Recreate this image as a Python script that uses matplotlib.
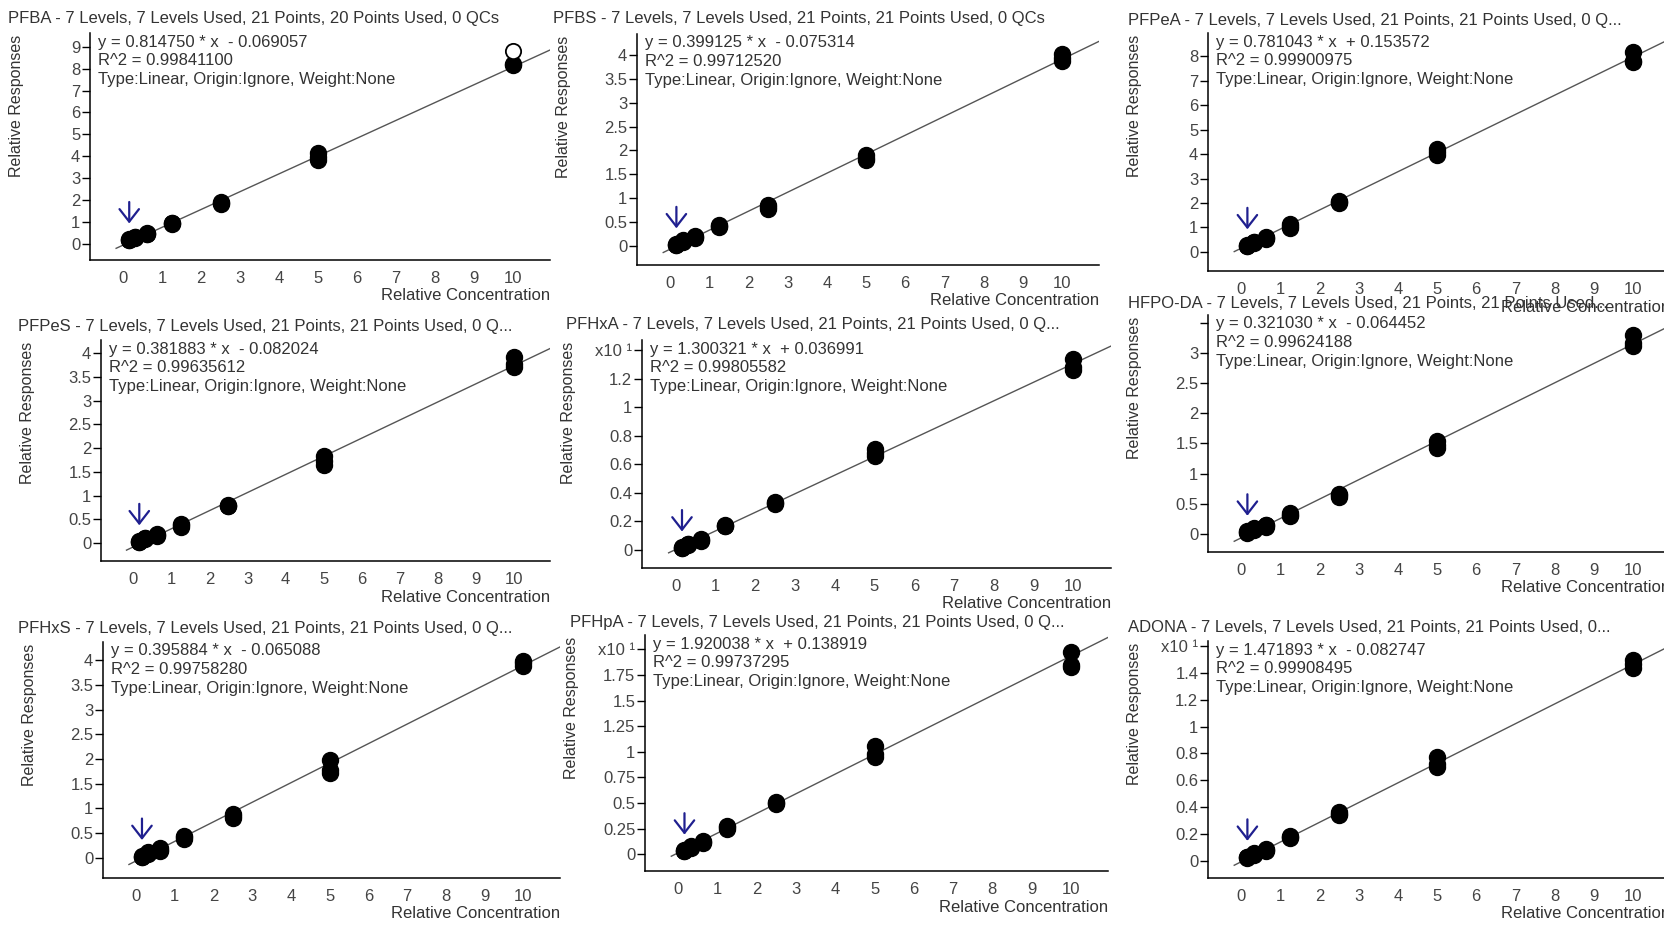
import numpy as np
import matplotlib
matplotlib.use('Agg')
import matplotlib.pyplot as plt
import matplotlib.transforms as mtransforms

plt.rcParams['font.family'] = ['Liberation Sans', 'DejaVu Sans']

# calibration levels (relative concentration), 3 replicates each
levels = [0.15625, 0.3125, 0.625, 1.25, 2.5, 5, 10]

compounds = ['PFBA', 'PFBS', 'PFPeA', 'PFPeS', 'PFHxA', 'HFPO-DA', 'PFHxS', 'PFHpA', 'ADONA']
titles = [
    'PFBA - 7 Levels, 7 Levels Used, 21 Points, 20 Points Used, 0 QCs',
    'PFBS - 7 Levels, 7 Levels Used, 21 Points, 21 Points Used, 0 QCs',
    'PFPeA - 7 Levels, 7 Levels Used, 21 Points, 21 Points Used, 0 Q...',
    'PFPeS - 7 Levels, 7 Levels Used, 21 Points, 21 Points Used, 0 Q...',
    'PFHxA - 7 Levels, 7 Levels Used, 21 Points, 21 Points Used, 0 Q...',
    'HFPO-DA - 7 Levels, 7 Levels Used, 21 Points, 21 Points Used...',
    'PFHxS - 7 Levels, 7 Levels Used, 21 Points, 21 Points Used, 0 Q...',
    'PFHpA - 7 Levels, 7 Levels Used, 21 Points, 21 Points Used, 0 Q...',
    'ADONA - 7 Levels, 7 Levels Used, 21 Points, 21 Points Used, 0...',
]
slopes = [0.814750, 0.399125, 0.781043, 0.381883, 1.300321, 0.321030, 0.395884, 1.920038, 1.471893]
intercepts = [-0.069057, -0.075314, 0.153572, -0.082024, 0.036991, -0.064452, -0.065088, 0.138919, -0.082747]
r_squared = ['0.99841100', '0.99712520', '0.99900975', '0.99635612', '0.99805582',
             '0.99624188', '0.99758280', '0.99737295', '0.99908495']
# displayed response multiplier (x10^1 on some axes)
multiplier = [1, 1, 1, 1, 10, 1, 1, 10, 10]

# relative responses per level (3 replicates)
pfba = [[0.15, 0.18, 0.20], [0.24, 0.28, 0.32], [0.42, 0.45, 0.48], [0.90, 0.93, 0.95],
        [1.82, 1.86, 1.92], [3.82, 3.95, 4.12], [8.15, 8.22, np.nan]]
pfba_excluded = [10, 8.82]
pfbs = [[0.01, 0.02, 0.03], [0.08, 0.10, 0.11], [0.15, 0.17, 0.19], [0.40, 0.42, 0.43],
        [0.76, 0.80, 0.86], [1.80, 1.85, 1.90], [3.88, 3.95, 4.02]]
pfpea = [[0.23, 0.26, 0.28], [0.36, 0.40, 0.42], [0.52, 0.56, 0.60], [0.98, 1.06, 1.14],
         [2.02, 2.05, 2.08], [3.98, 4.10, 4.22], [7.78, 7.82, 8.16]]
pfpes = [[0.02, 0.03, 0.04], [0.08, 0.10, 0.11], [0.14, 0.17, 0.19], [0.34, 0.37, 0.39],
         [0.77, 0.79, 0.81], [1.64, 1.72, 1.84], [3.72, 3.78, 3.92]]
pfhxa = [[0.14, 0.17, 0.19], [0.35, 0.40, 0.42], [0.65, 0.70, 0.75], [1.65, 1.70, 1.75],
         [3.25, 3.30, 3.36], [6.60, 6.80, 7.10], [12.6, 12.8, 13.4]]
hfpoda = [[0.02, 0.03, 0.04], [0.06, 0.08, 0.09], [0.12, 0.14, 0.15], [0.29, 0.32, 0.35],
          [0.62, 0.64, 0.66], [1.43, 1.48, 1.54], [3.12, 3.16, 3.30]]
pfhxs = [[0.01, 0.02, 0.04], [0.08, 0.10, 0.12], [0.13, 0.16, 0.19], [0.38, 0.42, 0.45],
         [0.80, 0.84, 0.88], [1.72, 1.78, 1.98], [3.88, 3.94, 3.99]]
pfhpa = [[0.28, 0.33, 0.36], [0.60, 0.70, 0.75], [1.05, 1.15, 1.25], [2.50, 2.60, 2.70],
         [4.90, 5.00, 5.10], [9.50, 9.80, 10.6], [18.3, 18.5, 19.7]]
adona = [[0.20, 0.25, 0.30], [0.45, 0.50, 0.55], [0.75, 0.82, 0.88], [1.70, 1.78, 1.85],
         [3.40, 3.50, 3.60], [7.00, 7.20, 7.70], [14.4, 14.7, 15.0]]
responses = [pfba, pfbs, pfpea, pfpes, pfhxa, hfpoda, pfhxs, pfhpa, adona]

# y ticks as shown on each axis (in displayed units)
yticks = [
    [0, 1, 2, 3, 4, 5, 6, 7, 8, 9],
    [0, 0.5, 1, 1.5, 2, 2.5, 3, 3.5, 4],
    [0, 1, 2, 3, 4, 5, 6, 7, 8],
    [0, 0.5, 1, 1.5, 2, 2.5, 3, 3.5, 4],
    [0, 0.2, 0.4, 0.6, 0.8, 1, 1.2, 1.4],
    [0, 0.5, 1, 1.5, 2, 2.5, 3, 3.5],
    [0, 0.5, 1, 1.5, 2, 2.5, 3, 3.5, 4],
    [0, 0.25, 0.5, 0.75, 1, 1.25, 1.5, 1.75, 2],
    [0, 0.2, 0.4, 0.6, 0.8, 1, 1.2, 1.4, 1.6],
]
xticks = [0, 1, 2, 3, 4, 5, 6, 7, 8, 9, 10]

# ---- layout (pixels of the 1665x932 picture) ----
W, H = 1665, 932
# axes box: left, top, right, bottom
boxes = [
    (90, 33, 550, 260), (637, 34, 1099, 265), (1208, 33, 1670, 271),
    (101, 340, 550, 561), (642, 340, 1111, 568), (1208, 315, 1670, 552),
    (103, 642, 560, 878), (645, 635, 1108, 871), (1208, 641, 1670, 878),
]
ylims = [(-0.75, 9.63), (-0.41, 4.45), (-0.78, 8.95),
         (-0.38, 4.28), (-0.126, 1.47), (-0.30, 3.63),
         (-0.41, 4.37), (-0.165, 2.14), (-0.13, 1.64)]
title_pos = [(8, 18), (553, 18), (1128, 20), (18, 327), (566, 325), (1128, 304),
             (18, 629), (570, 622), (1128, 628)]
xlim = (-0.85, 10.95)

txt = '#333333'
navy = '#1f1f8f'

fig = plt.figure(figsize=(W / 100, H / 100), dpi=100)


def fpos(x, y):
    return x / W, 1 - y / H


for i in range(9):
    l, t, r, b = boxes[i]
    ax = fig.add_axes([l / W, 1 - b / H, (r - l) / W, (b - t) / H])
    ax.set_xlim(xlim)
    ax.set_ylim(ylims[i])
    ax.patch.set_alpha(0)
    for s in ('top', 'right'):
        ax.spines[s].set_visible(False)
    for s in ('left', 'bottom'):
        ax.spines[s].set_linewidth(1.1)
        ax.spines[s].set_color('black')

    m = multiplier[i]
    ax.set_xticks(xticks)
    ax.set_xticklabels([str(v) for v in xticks])
    ax.set_yticks(yticks[i])
    labels = ['%g' % v for v in yticks[i]]
    if m == 10:
        labels[-1] = 'x10 \u00b9'
    if compounds[i] == 'HFPO-DA':
        labels[-1] = ''
    ax.set_yticklabels(labels)
    ax.tick_params(axis='y', length=5.5, width=1.0, pad=1.5, labelsize=12, labelcolor='#444444')
    ax.tick_params(axis='x', length=0, pad=8, labelsize=12, labelcolor='#444444')

    # regression line
    xs = np.array([-0.18, 11.5])
    ax.plot(xs, (slopes[i] * xs + intercepts[i]) / m, color='#555555', lw=1.0, zorder=2)

    # replicate points
    resp = np.array(responses[i], dtype=float) / m
    for lev, reps in zip(levels, resp):
        ax.plot([lev] * len(reps), reps, 'o', ms=11.5, color='black', zorder=3)
    if compounds[i] == 'PFBA':
        ax.plot(pfba_excluded[0], pfba_excluded[1], 'o', ms=11, mfc='white',
                mec='black', mew=1.3, zorder=4)

    # arrow above the lowest level
    low_y = np.nanmax(resp[0])
    tip = mtransforms.offset_copy(ax.transData, fig=fig, x=0, y=13, units='dots')
    ax.annotate('', xy=(levels[0], low_y), xycoords=tip,
                xytext=(0, 27), textcoords='offset pixels',
                arrowprops=dict(arrowstyle='->,head_length=0.45,head_width=0.35',
                                color=navy, lw=1.6, mutation_scale=20),
                annotation_clip=False)

    # texts
    tx, ty = title_pos[i]
    fig.text(*fpos(tx, ty), titles[i], ha='left', va='center', fontsize=12, color=txt)
    sign = '+' if intercepts[i] >= 0 else '-'
    eq_lines = ['y = %.6f * x  %s %.6f' % (slopes[i], sign, abs(intercepts[i])),
                'R^2 = ' + r_squared[i],
                'Type:Linear, Origin:Ignore, Weight:None']
    for k, line in enumerate(eq_lines):
        fig.text(*fpos(l + 8, t + 9 + k * 18.6), line, ha='left', va='center',
                 fontsize=12, color=txt)
    fig.text(*fpos(r, b + 36), 'Relative Concentration', ha='right', va='center',
             fontsize=12, color=txt)
    fig.text(*fpos(l - 73, t + 2), 'Relative Responses', rotation=90, ha='center',
             va='top', fontsize=11.5, color=txt)

fig.savefig('out.png', dpi=100, facecolor='white')
